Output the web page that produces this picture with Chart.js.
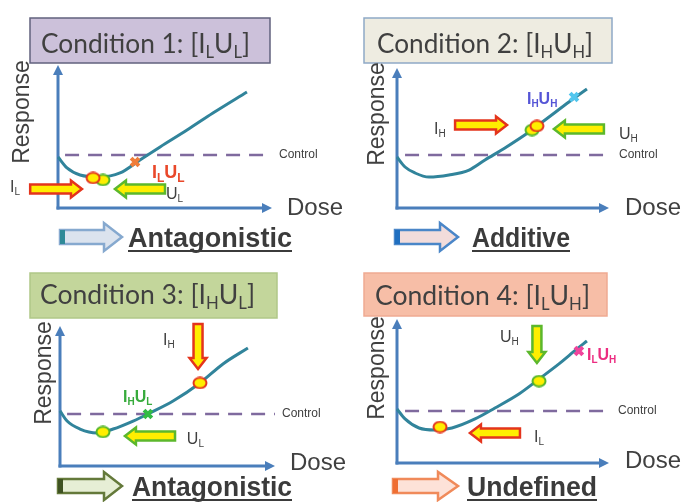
<!DOCTYPE html>
<html>
<head>
<meta charset="utf-8">
<script src="https://cdn.jsdelivr.net/npm/chart.js@4.4.1/dist/chart.umd.min.js"></script>
<style>
  html, body { margin: 0; padding: 0; background: #fff; }
  #wrap { position: relative; width: 684px; height: 502px; overflow: hidden; }
  canvas { position: absolute; left: 0; top: 0; width: 684px; height: 502px; }
</style>
</head>
<body>
<div id="wrap">
  <canvas id="c1" width="684" height="502"></canvas>
  <canvas id="c2" width="684" height="502"></canvas>
  <canvas id="c3" width="684" height="502"></canvas>
  <canvas id="c4" width="684" height="502"></canvas>
</div>
<script>
// 용량-반응 곡선 (용량 0~10, 반응 0~10)
const dose1 = [0, 0.42, 1.03, 1.96, 2.9, 3.83, 4.77, 6.03, 7.24, 8.83];
const resp1 = [3.57, 2.8, 2.31, 2.17, 2.45, 3.36, 4.27, 5.45, 6.64, 8.11];
const dose2 = [0, 0.38, 0.85, 1.51, 2.45, 3.4, 4.15, 5.09, 6.23, 7.17, 8.11, 8.96];
const resp2 = [3.64, 2.93, 2.5, 2.21, 2.36, 2.71, 3.43, 4.29, 5.43, 6.5, 7.57, 8.5];
const dose3 = [0, 0.33, 0.93, 1.72, 2.47, 3.4, 4.19, 5.26, 6.51, 7.58, 8.74];
const resp3 = [3.93, 3.21, 2.64, 2.36, 2.64, 3.21, 3.79, 4.64, 5.93, 7.29, 8.43];
const dose4 = [0, 0.38, 1.04, 1.79, 2.59, 3.68, 4.62, 5.75, 6.7, 7.64, 8.49, 8.96];
const resp4 = [3.75, 3.06, 2.43, 2.29, 2.43, 3.06, 3.82, 4.79, 5.83, 6.88, 7.92, 8.47];

// 대조군 수준 (점선)
const controlLevel = [3.7, 3.79, 3.71, 3.61];
const controlStart = [0.33, 0.38, 0.33, 0.38];

// 각 조건의 단독 반응점 (I, U) 과 혼합 반응점 (x 표시)
const pointsI = [[1.64, 2.1], [6.6, 5.86], [6.51, 5.93], [2.03, 2.5]];
const pointsU = [[2.1, 1.96], [6.37, 5.57], [2.0, 2.43], [6.7, 5.69]];
const pointsMix = [[3.6, 3.22], [8.35, 7.93], [4.09, 3.71], [8.58, 7.78]];

// 화살표 [시작x, 시작y, 끝x, 끝y]
const arrowsI = [[-1.3, 1.33, 1.12, 1.33], [2.74, 5.93, 5.19, 5.93], [6.42, 10.14, 6.42, 6.93], [5.8, 2.08, 3.44, 2.08]];
const arrowsU = [[5.0, 1.33, 2.66, 1.33], [9.76, 5.64, 7.4, 5.64], [5.35, 2.14, 3.02, 2.14], [6.6, 9.51, 6.6, 6.94]];

// 텍스트
const titles = ['Condition 1: [I_LU_L]', 'Condition 2: [I_HU_H]', 'Condition 3: [I_HU_L]', 'Condition 4: [I_LU_H]'];
const outcomes = ['Antagonistic', 'Additive', 'Antagonistic', 'Undefined'];
const labelsI = ['I_L', 'I_H', 'I_H', 'I_L'];
const labelsU = ['U_L', 'U_H', 'U_L', 'U_H'];
const labelsMix = ['I_LU_L', 'I_HU_H', 'I_HU_L', 'I_LU_H'];
const labelIPos = [[-2.24, 1.54], [1.75, 5.71], [4.79, 9.07], [6.46, 1.88]];
const labelUPos = [[5.05, 1.05], [10.47, 5.36], [5.9, 2.0], [4.86, 8.82]];
const labelMixPos = [[4.39, 2.52], [6.13, 7.86], [2.93, 5.0], [8.96, 7.57]];

// 패널 배치 (페이지 좌표)
const panels = [
  { id: 'c1', area: [58, 65, 272, 208],
    box: [30, 18, 240, 45], boxFill: '#ccc1da', boxLine: '#62627e', titleX: 41, titleW: 209, titleBase: 53,
    respX: 23, respY: 112, doseX: 287, doseY: 208, ctrlX: 279,
    mixColor: '#e9482a', xColor: '#ef7d3a', mixSize: 18,
    out: { x0: 60, x1: 122, hx: 104, cy: 237, fill: '#dbe3ee', line: '#86a9cf', strip: '#2f8a98', textX: 128, textW: 164, base: 247 } },
  { id: 'c2', area: [397, 68, 609, 208],
    box: [364, 18, 248, 45], boxFill: '#eeece1', boxLine: '#8fa9c6', titleX: 377, titleW: 216, titleBase: 53,
    respX: 378, respY: 114, doseX: 625, doseY: 208, ctrlX: 619,
    mixColor: '#5555d6', xColor: '#52c6ee', mixSize: 16,
    out: { x0: 395, x1: 458, hx: 440, cy: 237, fill: '#f2dcdb', line: '#4a86c8', strip: '#1f6fc0', textX: 472, textW: 98, base: 247 } },
  { id: 'c3', area: [60, 326, 275, 466],
    box: [30, 273, 247, 45], boxFill: '#c3d69b', boxLine: '#b0c788', titleX: 40, titleW: 215, titleBase: 304,
    respX: 45, respY: 373, doseX: 290, doseY: 463, ctrlX: 282,
    mixColor: '#37ab3c', xColor: '#33bb44', mixSize: 16,
    out: { x0: 58, x1: 122, hx: 104, cy: 486, fill: '#e6eed5', line: '#64793a', strip: '#3f5222', textX: 132, textW: 160, base: 496 } },
  { id: 'c4', area: [397, 319, 609, 463],
    box: [364, 273, 243, 43], boxFill: '#f7bea7', boxLine: '#efaa92', titleX: 375, titleW: 215, titleBase: 305,
    respX: 378, respY: 368, doseX: 625, doseY: 461, ctrlX: 618,
    mixColor: '#ec2c80', xColor: '#f0449c', mixSize: 16,
    out: { x0: 393, x1: 458, hx: 438, cy: 486, fill: '#fde2d8', line: '#f08a5a', strip: '#ef6f33', textX: 467, textW: 130, base: 496 } }
];

const SANS = "'Liberation Sans', Arial, sans-serif";
const TITLE_FONT = "Lato, 'Open Sans', sans-serif";

// 타원 마커 이미지
function ellipseMarker(stroke) {
  const c = document.createElement('canvas');
  c.width = 16; c.height = 13;
  const g = c.getContext('2d');
  g.beginPath();
  g.ellipse(8, 6.5, 6.5, 5.2, 0, 0, Math.PI * 2);
  g.fillStyle = '#ffee00';
  g.fill();
  g.lineWidth = 2;
  g.strokeStyle = stroke;
  g.stroke();
  return c;
}
const markI = ellipseMarker('#e4341c');
const markU = ellipseMarker('#52b52a');

// 밑줄(_) 뒤 한 글자는 아래첨자로 그림
function drawSub(ctx, str, x, y, size, weight, color, family, targetW) {
  const parts = [];
  for (let i = 0; i < str.length; i++) {
    if (str[i] === '_') { parts.push([str[i + 1], true]); i++; }
    else if (parts.length && !parts[parts.length - 1][1]) parts[parts.length - 1][0] += str[i];
    else parts.push([str[i], false]);
  }
  const big = weight + ' ' + size + 'px ' + family;
  const small = weight + ' ' + Math.round(size * 0.64) + 'px ' + family;
  let w = 0;
  parts.forEach(p => { ctx.font = p[1] ? small : big; w += ctx.measureText(p[0]).width; });
  const sx = targetW ? targetW / w : 1;
  ctx.save();
  ctx.translate(x, y);
  ctx.scale(sx, 1);
  ctx.fillStyle = color;
  ctx.textAlign = 'left';
  ctx.textBaseline = 'alphabetic';
  let cx = 0;
  parts.forEach(p => {
    ctx.font = p[1] ? small : big;
    ctx.fillText(p[0], cx, p[1] ? size * 0.2 : 0);
    cx += ctx.measureText(p[0]).width;
  });
  ctx.restore();
  return w * sx;
}

function blockArrow(ctx, x0, y0, x1, y1, bw, hw, hl, fill, stroke, lw) {
  const len = Math.hypot(x1 - x0, y1 - y0);
  ctx.save();
  ctx.translate(x0, y0);
  ctx.rotate(Math.atan2(y1 - y0, x1 - x0));
  ctx.beginPath();
  ctx.moveTo(0, -bw);
  ctx.lineTo(len - hl, -bw);
  ctx.lineTo(len - hl, -hw);
  ctx.lineTo(len, 0);
  ctx.lineTo(len - hl, hw);
  ctx.lineTo(len - hl, bw);
  ctx.lineTo(0, bw);
  ctx.closePath();
  ctx.fillStyle = fill;
  ctx.fill();
  ctx.lineJoin = 'miter';
  ctx.lineWidth = lw;
  ctx.strokeStyle = stroke;
  ctx.stroke();
  ctx.restore();
}

function axisArrow(ctx, x0, y0, x1, y1) {
  const a = Math.atan2(y1 - y0, x1 - x0);
  ctx.beginPath();
  ctx.moveTo(x0, y0);
  ctx.lineTo(x1 - Math.cos(a) * 6, y1 - Math.sin(a) * 6);
  ctx.stroke();
  ctx.save();
  ctx.translate(x1, y1);
  ctx.rotate(a);
  ctx.beginPath();
  ctx.moveTo(0, 0);
  ctx.lineTo(-10, -5);
  ctx.lineTo(-10, 5);
  ctx.closePath();
  ctx.fill();
  ctx.restore();
}

function makeDecor(k) {
  const p = panels[k];
  return {
    id: 'decor' + k,
    beforeDatasetsDraw(chart) {
      const ctx = chart.ctx;
      const a = chart.chartArea;
      ctx.save();
      // 축
      ctx.strokeStyle = '#4a7ebb';
      ctx.fillStyle = '#4a7ebb';
      ctx.lineWidth = 3;
      axisArrow(ctx, a.left, a.bottom + 1.5, a.left, a.top);
      axisArrow(ctx, a.left - 1.5, a.bottom, a.right, a.bottom);
      // 제목 상자
      ctx.fillStyle = p.boxFill;
      ctx.fillRect(p.box[0], p.box[1], p.box[2], p.box[3]);
      ctx.strokeStyle = p.boxLine;
      ctx.lineWidth = 1.5;
      ctx.strokeRect(p.box[0], p.box[1], p.box[2], p.box[3]);
      drawSub(ctx, titles[k], p.titleX, p.titleBase, 27, 'normal', '#404040', TITLE_FONT, p.titleW);
      // 축 이름
      ctx.fillStyle = '#404040';
      ctx.font = '23px ' + SANS;
      ctx.textAlign = 'center';
      ctx.textBaseline = 'middle';
      ctx.save();
      ctx.translate(p.respX, p.respY);
      ctx.rotate(-Math.PI / 2);
      ctx.fillText('Response', 0, 0);
      ctx.restore();
      ctx.font = '24px ' + SANS;
      ctx.textAlign = 'left';
      ctx.fillText('Dose', p.doseX, p.doseY);
      ctx.font = '12px ' + SANS;
      ctx.fillText('Control', p.ctrlX, chart.scales.y.getPixelForValue(controlLevel[k]));
      // 결과 화살표와 문구
      const o = p.out;
      ctx.beginPath();
      ctx.moveTo(o.x0, o.cy - 7);
      ctx.lineTo(o.hx, o.cy - 7);
      ctx.lineTo(o.hx, o.cy - 14);
      ctx.lineTo(o.x1, o.cy);
      ctx.lineTo(o.hx, o.cy + 14);
      ctx.lineTo(o.hx, o.cy + 7);
      ctx.lineTo(o.x0, o.cy + 7);
      ctx.closePath();
      ctx.fillStyle = o.fill;
      ctx.fill();
      ctx.strokeStyle = o.line;
      ctx.lineWidth = 2.5;
      ctx.stroke();
      ctx.fillStyle = o.strip;
      ctx.fillRect(o.x0, o.cy - 7, 5, 14);
      drawSub(ctx, outcomes[k], o.textX, o.base, 27, 'bold', '#3b3b3b', SANS, o.textW);
      ctx.fillStyle = '#3b3b3b';
      ctx.fillRect(o.textX, o.base + 3, o.textW, 2);
      ctx.restore();
    },
    afterDatasetsDraw(chart) {
      const ctx = chart.ctx;
      const sx = chart.scales.x, sy = chart.scales.y;
      const X = v => sx.getPixelForValue(v), Y = v => sy.getPixelForValue(v);
      ctx.save();
      const ai = arrowsI[k], au = arrowsU[k];
      blockArrow(ctx, X(ai[0]), Y(ai[1]), X(ai[2]), Y(ai[3]), 4.5, 8.5, 11, '#ffee00', '#e4341c', 2.5);
      blockArrow(ctx, X(au[0]), Y(au[1]), X(au[2]), Y(au[3]), 4.5, 8.5, 11, '#ffee00', '#5cb82c', 2.5);
      drawSub(ctx, labelsI[k], X(labelIPos[k][0]), Y(labelIPos[k][1]) + 6, 16, 'normal', '#404040', SANS);
      drawSub(ctx, labelsU[k], X(labelUPos[k][0]), Y(labelUPos[k][1]) + 6, 16, 'normal', '#404040', SANS);
      drawSub(ctx, labelsMix[k], X(labelMixPos[k][0]), Y(labelMixPos[k][1]) + 6, p.mixSize, 'bold', p.mixColor, SANS);
      ctx.restore();
    }
  };
}

const doses = [dose1, dose2, dose3, dose4];
const resps = [resp1, resp2, resp3, resp4];

panels.forEach((p, k) => {
  const curve = doses[k].map((d, i) => ({ x: d, y: resps[k][i] }));
  const pt = a => [{ x: a[0], y: a[1] }];
  new Chart(document.getElementById(p.id), {
    type: 'line',
    data: {
      datasets: [
        { data: pt(pointsMix[k]), showLine: false, pointStyle: 'crossRot', pointRadius: 5.5,
          pointBorderColor: p.xColor, pointBorderWidth: 4, clip: false },
        { data: pt(pointsI[k]), showLine: false, pointStyle: markI, pointRadius: 6, clip: false },
        { data: pt(pointsU[k]), showLine: false, pointStyle: markU, pointRadius: 6, clip: false },
        { data: curve, borderColor: '#31849b', borderWidth: 3, pointRadius: 0,
          cubicInterpolationMode: 'monotone', fill: false, clip: false },
        { data: [{ x: controlStart[k], y: controlLevel[k] }, { x: 10, y: controlLevel[k] }],
          borderColor: '#7f6a9e', borderWidth: 2.5, borderDash: [14, 9], pointRadius: 0, fill: false, clip: false }
      ]
    },
    options: {
      responsive: false,
      animation: false,
      events: [],
      layout: {
        autoPadding: false,
        padding: { left: p.area[0], top: p.area[1], right: 684 - p.area[2], bottom: 502 - p.area[3] }
      },
      scales: {
        x: { type: 'linear', min: 0, max: 10, display: false },
        y: { type: 'linear', min: 0, max: 10, display: false }
      },
      plugins: { legend: { display: false }, tooltip: { enabled: false } }
    },
    plugins: [makeDecor(k)]
  });
});
</script>
</body>
</html>
